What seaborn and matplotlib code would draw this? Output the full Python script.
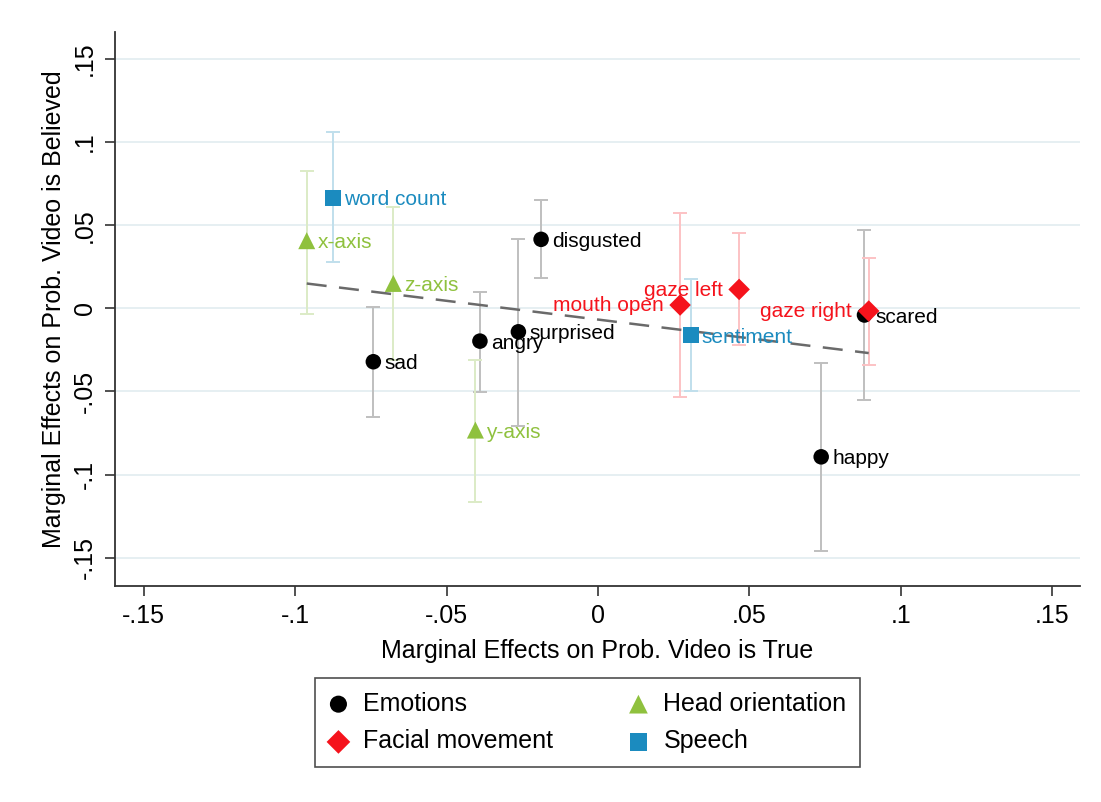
import numpy as np
import pandas as pd
import matplotlib
matplotlib.use("Agg")
import matplotlib.pyplot as plt
import seaborn as sns

# ---- data ----
labels = ["sad", "angry", "surprised", "disgusted", "happy", "scared",
          "x-axis", "y-axis", "z-axis",
          "mouth open", "gaze left", "gaze right",
          "word count", "sentiment"]
groups = ["Emotions"] * 6 + ["Head orientation"] * 3 + ["Facial movement"] * 3 + ["Speech"] * 2
x_true = [-0.0742, -0.0390, -0.0263, -0.0188, 0.0737, 0.0880,
          -0.0962, -0.0405, -0.0676,
          0.0271, 0.0466, 0.0894,
          -0.0876, 0.0306]
y_believed = [-0.0321, -0.0197, -0.0141, 0.0415, -0.0893, -0.0040,
              0.0407, -0.0732, 0.0150,
              0.0020, 0.0114, -0.0016,
              0.0665, -0.0161]
ci_low = [-0.0652, -0.0502, -0.0706, 0.0180, -0.1458, -0.0552,
          -0.0032, -0.1167, -0.0308,
          -0.0532, -0.0221, -0.0341,
          0.0279, -0.0496]
ci_high = [0.0010, 0.0100, 0.0417, 0.0652, -0.0331, 0.0471,
           0.0826, -0.0311, 0.0608,
           0.0572, 0.0455, 0.0304,
           0.1059, 0.0174]
label_side = ["right"] * 9 + ["left"] * 3 + ["right"] * 2

group_order = ["Emotions", "Head orientation", "Facial movement", "Speech"]
tick_vals = [-0.15, -0.1, -0.05, 0, 0.05, 0.1, 0.15]
tick_labels = ["-.15", "-.1", "-.05", "0", ".05", ".1", ".15"]

df = pd.DataFrame({"label": labels, "group": groups, "x": x_true, "y": y_believed,
                   "lo": ci_low, "hi": ci_high, "side": label_side})

# ---- styles ----
palette = {"Emotions": "#000000", "Head orientation": "#8fc13e",
           "Facial movement": "#f5131c", "Speech": "#1b8bbf"}
ci_colors = {"Emotions": "#bfbfbf", "Head orientation": "#dcebc6",
             "Facial movement": "#fcc2c4", "Speech": "#c0dfec"}
markers = {"Emotions": "o", "Head orientation": "^",
           "Facial movement": "D", "Speech": "s"}
msize = {"Emotions": 125, "Head orientation": 150,
         "Facial movement": 120, "Speech": 130}

sns.set_theme(style="white")
plt.rcParams["font.family"] = ["Liberation Sans", "DejaVu Sans"]
plt.rcParams["text.color"] = "black"
plt.rcParams["axes.labelcolor"] = "black"
plt.rcParams["xtick.color"] = "black"
plt.rcParams["ytick.color"] = "black"

fig = plt.figure(figsize=(11.01, 8.02), dpi=100)
ax = fig.add_axes([0.1045, 0.2697, 0.8765, 0.6908])

# grid lines
for v in tick_vals:
    ax.axhline(v, color="#e4eef1", lw=1.3, zorder=0)

# confidence intervals
for g in group_order:
    sub = df[df.group == g]
    ax.errorbar(sub.x, sub.y, yerr=[sub.y - sub.lo, sub.hi - sub.y], fmt="none",
                ecolor=ci_colors[g], elinewidth=1.4, capsize=5, capthick=1.4,
                zorder=1, label="_nolegend_")

# fitted line
sns.regplot(data=df, x="x", y="y", scatter=False, ci=None, ax=ax,
            line_kws={"color": "#6a6a6a", "lw": 1.8, "dashes": (8, 5), "zorder": 2})

# points
for g in group_order:
    sub = df[df.group == g]
    sns.scatterplot(data=sub, x="x", y="y", color=palette[g], marker=markers[g],
                    s=msize[g], edgecolor="none", linewidth=0, ax=ax, label=g, zorder=3)

# point labels
for _, r in df.iterrows():
    if r.side == "right":
        ax.annotate(r.label, (r.x, r.y), xytext=(8, -1.5), textcoords="offset points",
                    ha="left", va="center", fontsize=15, color=palette[r.group], zorder=4)
    else:
        ax.annotate(r.label, (r.x, r.y), xytext=(-12, -0.5), textcoords="offset points",
                    ha="right", va="center", fontsize=15, color=palette[r.group], zorder=4)

ax.set_xlim(-0.1595, 0.1592)
ax.set_ylim(-0.1668, 0.1664)
ax.set_xticks(tick_vals)
ax.set_xticklabels(tick_labels)
ax.set_yticks(tick_vals)
ax.set_yticklabels(tick_labels, rotation=90, va="center")
ax.tick_params(axis="both", which="major", direction="out", length=7, width=1.2,
               color="#333333", labelsize=18, labelcolor="black", pad=6,
               left=True, bottom=True)
for s in ["top", "right"]:
    ax.spines[s].set_visible(False)
for s in ["left", "bottom"]:
    ax.spines[s].set_color("#333333")
    ax.spines[s].set_linewidth(1.3)

ax.set_xlabel("Marginal Effects on Prob. Video is True", fontsize=18, labelpad=8,
              color="black")
ax.set_ylabel("Marginal Effects on Prob. Video is Believed", fontsize=18, labelpad=5,
              color="black")

handles, labs = ax.get_legend_handles_labels()
hmap = dict(zip(labs, handles))
if ax.get_legend() is not None:
    ax.get_legend().remove()
order = ["Emotions", "Facial movement", "Head orientation", "Speech"]
leg = fig.legend([hmap[k] for k in order], order, ncol=2, loc="center",
                 bbox_to_anchor=(0.5336, 0.099), fontsize=18, frameon=True,
                 fancybox=False, edgecolor="#222222", handlelength=0.8,
                 handletextpad=0.6, columnspacing=3.0, labelspacing=0.55,
                 borderpad=0.55, markerscale=1.1)
leg.get_frame().set_linewidth(1.2)
for t in leg.get_texts():
    t.set_color("black")

fig.savefig("out.png", dpi=100, facecolor="white")
